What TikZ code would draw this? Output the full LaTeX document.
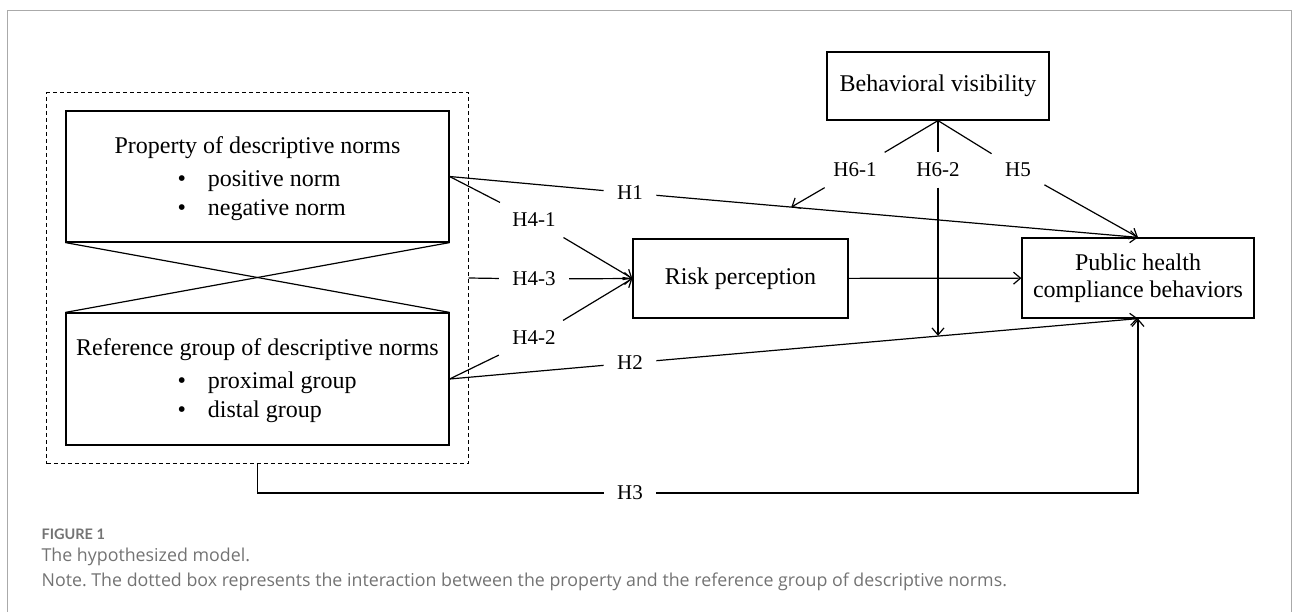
\documentclass[tikz,border=0pt]{standalone}
\usepackage{fontspec}
\setmainfont{Liberation Serif}
\newfontfamily\capfont{Open Sans}
\newfontfamily\figfont[Ligatures=NoCommon]{Lato}
\usepackage{tikz}
\usetikzlibrary{
    calc,
    fit,
    arrows.meta
}
\definecolor{framegray}{HTML}{AAAAAA}
\definecolor{capgray}{HTML}{737373}
\tikzset{
  box/.style={draw,line width=1.2pt,inner sep=0pt},
  hyp/.style={font=\fontsize{21}{21}\selectfont,inner xsep=13pt,inner ysep=10pt},
  item/.style={anchor=base west,inner sep=0pt},
  caption/.style={anchor=base west,inner sep=0pt,text=capgray},
  >={Straight Barb[length=7pt,width=12pt]}
}

\begin{document}
\begin{tikzpicture}[x=1pt,y=-1pt,line width=1.2pt,font=\fontsize{24}{27}\selectfont]
\useasboundingbox (0,0) rectangle (1293,612);
\draw [framegray,line width=1pt] (7,612) -- (7,11) -- (1291,11) -- (1291,612);

\node [box,minimum width=383pt,minimum height=131pt] (prop) at (257.5,176.5) {};
\node [anchor=base,inner sep=0pt] (propt) at ($(prop.north)+(0,43)$) {Property of descriptive norms};
\node [item] (prop1) at ($(prop.north west)+(111.5,76)$) {\textbullet\hspace{22pt}positive norm};
\node [item] (prop2) at ($(prop.north west)+(111.5,105)$) {\textbullet\hspace{22pt}negative norm};

\node [box,minimum width=383pt,minimum height=132pt] (ref) at (257.5,379) {};
\node [anchor=base,inner sep=0pt] (reft) at ($(ref.north)+(0,43)$) {Reference group of descriptive norms};
\node [item] (ref1) at ($(ref.north west)+(111.5,76)$) {\textbullet\hspace{22pt}proximal group};
\node [item] (ref2) at ($(ref.north west)+(111.5,105)$) {\textbullet\hspace{22pt}distal group};

\draw (prop.south west) -- (ref.north east);
\draw (prop.south east) -- (ref.north west);
\node [draw,line width=1pt,dash pattern=on 4pt off 3pt,fit=(prop)(ref),inner xsep=18.5pt,inner ysep=18pt] (inter) {};

\node [box,minimum width=215pt,minimum height=79pt] (risk) at (740.5,278.5) {Risk perception};
\node [box,minimum width=222pt,minimum height=68pt] (vis) at (938,86) {Behavioral visibility};
\node [box,minimum width=232pt,minimum height=80pt,align=center] (comp) at (1138,278) {Public health\\compliance behaviors};

\node [hyp] (h1) at (630,193) {H1};
\node [hyp] (h41) at (534,220) {H4-1};
\node [hyp] (h43) at (534,279) {H4-3};
\node [hyp] (h42) at (534,338) {H4-2};
\node [hyp] (h2) at (630,363) {H2};
\node [hyp] (h3) at (630,493) {H3};
\node [hyp] (h61) at (855,170) {H6-1};
\node [hyp] (h62) at (938,170) {H6-2};
\node [hyp] (h5) at (1018,170) {H5};

\draw (prop.east) -- (h1);
\draw [->] (h1) -- coordinate [pos=0.28] (h1mid) (comp.north);
\draw (prop.east) -- (h41);
\draw [->] (h41) -- (risk.west);
\draw (inter.east) -- (h43);
\draw [->] (h43) -- (risk.west);
\draw (ref.east) -- (h42);
\draw [->] (h42) -- (risk.west);
\draw (ref.east) -- (h2);
\draw [->] (h2) -- coordinate [pos=0.59] (h2mid) (comp.south);
\draw (inter.south) |- (h3);
\draw [->] (h3) -| (comp.south);
\draw [->] (risk) -- (comp);

\draw (vis.south) -- (h61);
\draw (vis.south) -- (h62);
\draw (vis.south) -- (h5);
\draw [->] (h61) -- (h1mid);
\draw [->] (h62) -- (h62 |- h2mid);
\draw [->] (h5) -- (comp.north);

\node [caption,font=\fontsize{14.5}{14.5}\selectfont\figfont\bfseries] (fig) at (41,539) {FIGURE 1};
\node [caption,font=\fontsize{17.8}{17.8}\selectfont\capfont] (title) at (41,561) {The hypothesized model.};
\node [caption,font=\fontsize{17.8}{17.8}\selectfont\capfont] (note) at (41,586) {Note.\ The dotted box represents the interaction between the property and the reference group of descriptive norms.};
\end{tikzpicture}
\end{document}
